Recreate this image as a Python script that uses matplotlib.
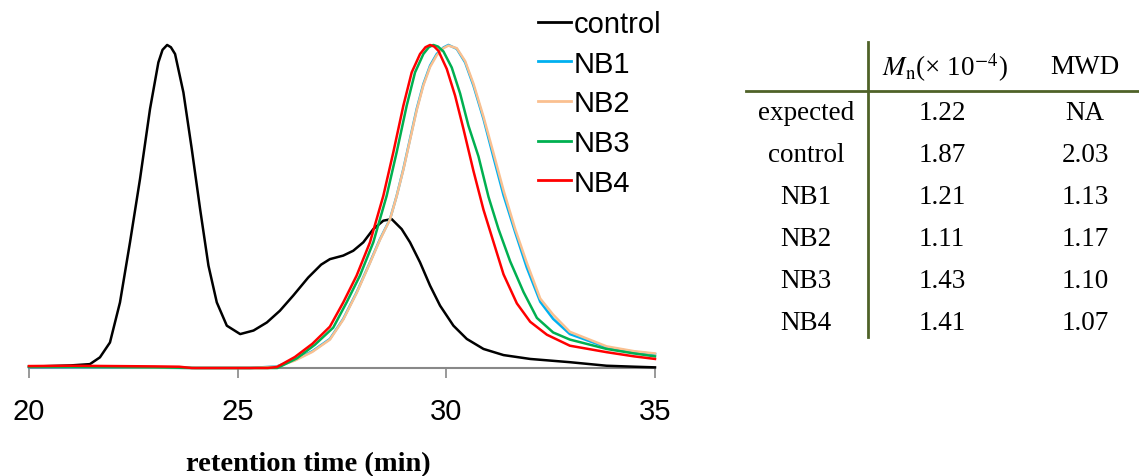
import matplotlib
matplotlib.use("Agg")
import matplotlib.pyplot as plt
from matplotlib.lines import Line2D

plt.rcParams["mathtext.fontset"] = "stix"

# -----------------------------------
# GPC TRACES (normalised intensity)
# -----------------------------------

control_t = [20.0, 20.5, 21.0, 21.46, 21.70, 21.94, 22.18, 22.42, 22.66, 22.90,
             23.10, 23.2, 23.31, 23.4, 23.5, 23.70, 23.9, 24.1, 24.3, 24.5, 24.74, 25.06,
             25.38, 25.70, 26.01, 26.33, 26.69, 27.0, 27.21, 27.53, 27.77, 28.01,
             28.25, 28.49, 28.69, 28.93, 29.13, 29.37, 29.61, 29.85, 30.17, 30.49,
             30.89, 31.37, 32.01, 32.96, 33.84, 34.5, 35.0]
control_h = [0.004, 0.006, 0.008, 0.012, 0.033, 0.079, 0.203, 0.389, 0.585, 0.802,
             0.946, 0.985, 1.0, 0.993, 0.972, 0.853, 0.678, 0.492, 0.317, 0.203, 0.131, 0.105,
             0.116, 0.141, 0.177, 0.224, 0.28, 0.32, 0.337, 0.348, 0.363, 0.389,
             0.430, 0.456, 0.461, 0.430, 0.389, 0.327, 0.255, 0.193, 0.131, 0.090,
             0.059, 0.040, 0.028, 0.018, 0.007, 0.004, 0.002]

nb_t = [20.0, 22.0, 24.0, 25.3, 25.94, 26.37, 26.79, 27.21, 27.53, 27.85,
        28.17, 28.41, 28.65, 28.81, 28.97, 29.13, 29.29, 29.45, 29.61, 29.77,
        29.93, 30.05, 30.25, 30.45, 30.65, 30.89, 31.13, 31.37, 31.65, 31.93,
        32.25, 32.56, 32.96, 33.84, 34.5, 35.0]
nb1_h = [0.003, 0.002, 0.0, 0.0, 0.005, 0.025, 0.052, 0.09, 0.152, 0.234,
         0.327, 0.399, 0.461, 0.533, 0.616, 0.709, 0.802, 0.879, 0.936, 0.972,
         0.992, 1.0, 0.988, 0.946, 0.874, 0.771, 0.652, 0.535, 0.42, 0.31,
         0.205, 0.152, 0.105, 0.064, 0.05, 0.043]
nb2_h = [0.004, 0.003, 0.0, 0.0, 0.004, 0.023, 0.05, 0.088, 0.15, 0.232,
         0.325, 0.397, 0.46, 0.532, 0.614, 0.706, 0.798, 0.875, 0.932, 0.968,
         0.99, 0.998, 0.99, 0.95, 0.88, 0.778, 0.665, 0.55, 0.43, 0.325,
         0.215, 0.165, 0.112, 0.067, 0.052, 0.045]

nb3_t = [20.0, 21.0, 22.0, 23.0, 24.0, 25.95, 26.42, 26.85, 27.29, 27.61,
         27.93, 28.25, 28.57, 28.81, 29.05, 29.25, 29.45, 29.58, 29.69, 29.8,
         29.93, 30.13, 30.33, 30.53, 30.77, 31.01, 31.25, 31.53, 31.85, 32.17,
         32.56, 32.96, 33.84, 34.5, 35.0]
nb3_h = [0.004, 0.004, 0.003, 0.002, 0.0, 0.0, 0.03, 0.072, 0.125, 0.203,
         0.286, 0.389, 0.533, 0.668, 0.812, 0.915, 0.972, 0.993, 1.0, 0.995,
         0.98, 0.93, 0.85, 0.75, 0.655, 0.53, 0.43, 0.33, 0.235, 0.155,
         0.11, 0.088, 0.059, 0.045, 0.036]

nb4_t = [20.0, 21.0, 22.0, 23.0, 23.6, 23.9, 25.72, 25.94, 26.37, 26.79,
         27.21, 27.53, 27.85, 28.17, 28.49, 28.73, 28.97, 29.17, 29.37, 29.5,
         29.61, 29.71, 29.81, 30.01, 30.21, 30.41, 30.65, 30.89, 31.13, 31.37,
         31.69, 32.01, 32.41, 32.96, 33.84, 34.5, 35.0]
nb4_h = [0.006, 0.007, 0.006, 0.005, 0.004, 0.0, 0.0, 0.003, 0.034, 0.075,
         0.128, 0.203, 0.286, 0.389, 0.533, 0.668, 0.812, 0.915, 0.972, 0.993,
         1.0, 0.995, 0.982, 0.926, 0.843, 0.740, 0.61, 0.49, 0.39, 0.29,
         0.2, 0.143, 0.103, 0.069, 0.049, 0.036, 0.028]

series_names = ["control", "NB1", "NB2", "NB3", "NB4"]
series_colors = ["#000000", "#00B0F0", "#FAC090", "#00B050", "#FF0000"]

# -----------------------------------
# TABLE VALUES
# -----------------------------------

table_rows = ["expected", "control", "NB1", "NB2", "NB3", "NB4"]
table_mn = ["1.22", "1.87", "1.21", "1.11", "1.43", "1.41"]
table_mwd = ["NA", "2.03", "1.13", "1.17", "1.10", "1.07"]

# -----------------------------------
# FIGURE
# -----------------------------------

W, H = 1139, 477
fig = plt.figure(figsize=(W / 100, H / 100), dpi=100)

ax = fig.add_axes([29 / W, 1 - 369 / H, (655 - 29) / W, (369 - 39.5) / H])

traces = [(control_t, control_h), (nb_t, nb1_h), (nb_t, nb2_h),
          (nb3_t, nb3_h), (nb4_t, nb4_h)]

for (t, h), name, color in zip(traces, series_names, series_colors):
    ax.plot(t, h, color=color, lw=1.8, label=name, clip_on=False, zorder=3,
            solid_joinstyle="round")

ax.set_xlim(20, 35)
ax.set_ylim(0, 1.02)
ax.set_xticks([20, 25, 30, 35])
ax.set_yticks([])

for side in ["left", "right", "top"]:
    ax.spines[side].set_visible(False)
ax.spines["bottom"].set_color("#888888")
ax.spines["bottom"].set_linewidth(1.5)
ax.spines["bottom"].set_zorder(1)

ax.tick_params(axis="x", direction="out", length=7, width=1.2, color="#888888",
               pad=14, labelsize=21)
for lab in ax.get_xticklabels():
    lab.set_fontfamily("Liberation Sans")

fig.text(308 / W, 1 - 465 / H, "retention time (min)", ha="center", va="center",
         fontsize=20.5, fontweight="bold", family="Liberation Serif")

leg = ax.legend(loc="upper left", bbox_to_anchor=(538 / W, 1 - 11 / H),
                bbox_transform=fig.transFigure, frameon=False,
                prop={"family": "Liberation Sans", "size": 21},
                handlelength=1.13, handletextpad=0.1, labelspacing=0.4,
                borderaxespad=0, borderpad=0)
for line in leg.get_lines():
    line.set_linewidth(2)

# -----------------------------------
# TABLE
# -----------------------------------

olive = "#4F6228"
fig.add_artist(Line2D([868 / W, 868 / W], [1 - 43 / H, 1 - 338 / H],
                      transform=fig.transFigure, color=olive, lw=2))
fig.add_artist(Line2D([746 / W, 1139 / W], [1 - 92 / H, 1 - 92 / H],
                      transform=fig.transFigure, color=olive, lw=2))

tfont = dict(family="Liberation Serif", fontsize=19.5, ha="center", va="center")
fig.text(945 / W, 1 - 68 / H, r"$M_{\rm n}$(× 10$^{-4}$)", **tfont)
fig.text(1085 / W, 1 - 68 / H, "MWD", **tfont)

row_y = [114, 156, 198, 240, 282, 323]
for name, mn, mwd, y in zip(table_rows, table_mn, table_mwd, row_y):
    fig.text(806 / W, 1 - y / H, name, **tfont)
    fig.text(942 / W, 1 - y / H, mn, **tfont)
    fig.text(1085 / W, 1 - y / H, mwd, **tfont)

plt.savefig("out.png", dpi=100)
